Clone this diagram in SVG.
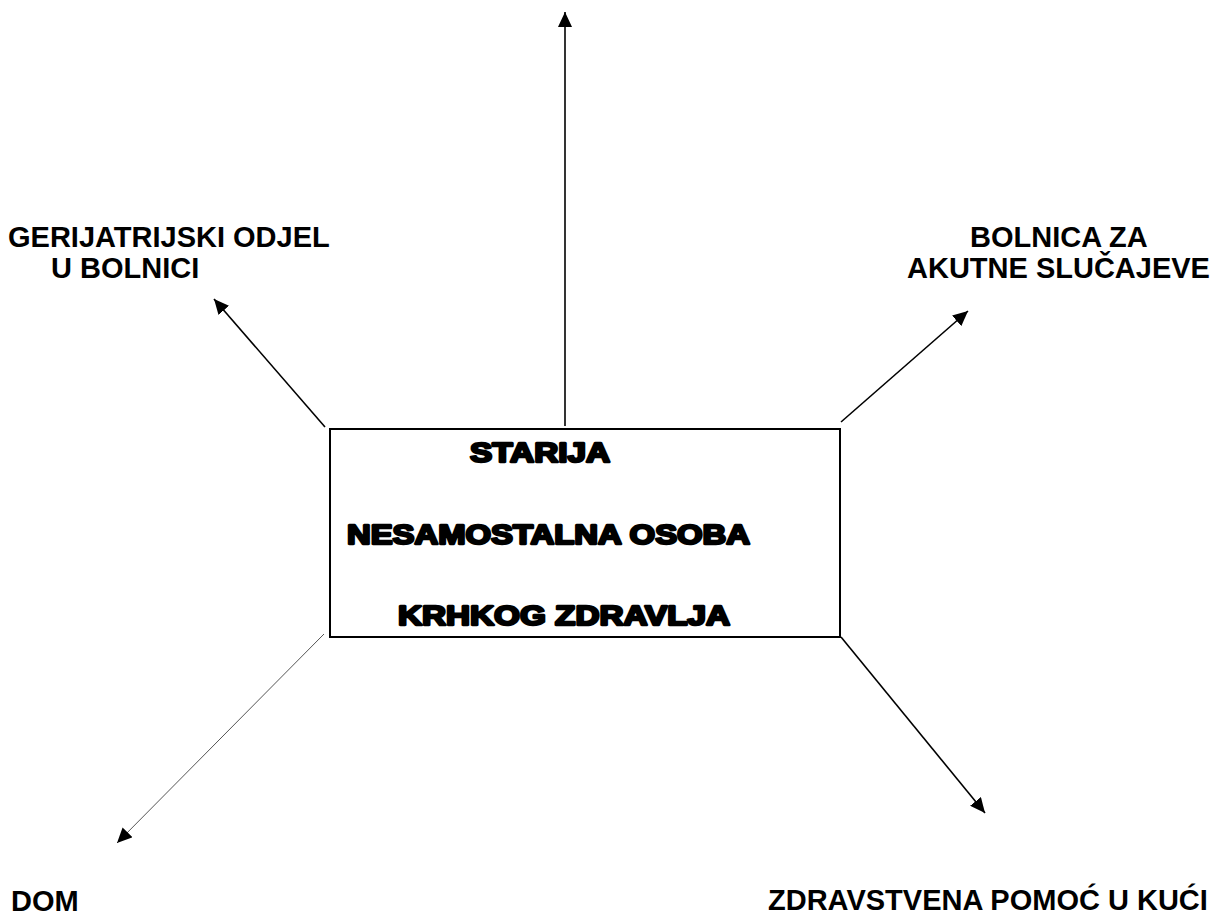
<svg xmlns="http://www.w3.org/2000/svg" width="1227" height="915" viewBox="0 0 1227 915">
<style>
.lbl{font-family:"Liberation Sans",Arial,sans-serif;font-weight:bold;font-size:29px;fill:#000}
.box{font-family:"Liberation Sans",Arial,sans-serif;font-weight:bold;font-size:27px;fill:#000;stroke:#000;stroke-width:2.4px;stroke-linejoin:round}
.conn{stroke:#000;stroke-width:1.6;fill:none;marker-end:url(#ah)}
.thin{stroke:#555;stroke-width:1;fill:none;marker-end:url(#ah)}
</style>
<defs>
<marker id="ah" viewBox="0 0 15 14" refX="15" refY="7" markerWidth="15" markerHeight="14" markerUnits="userSpaceOnUse" orient="auto">
<path d="M0,0 L15,7 L0,14 Z" fill="#000"/>
</marker>
</defs>
<rect width="1227" height="915" fill="#fff"/>
<g id="connectors">
<line class="conn" x1="565" y1="426" x2="565" y2="12"/>
<line class="conn" x1="325" y1="427" x2="214" y2="299"/>
<line class="conn" x1="841" y1="422" x2="968" y2="311"/>
<line class="thin" x1="324" y1="634" x2="117" y2="843"/>
<line class="conn" x1="841" y1="637" x2="985" y2="813"/>
</g>
<g id="center">
<rect x="330" y="429" width="510" height="208" fill="#fff" stroke="#000" stroke-width="2"/>
<text class="box" x="470" y="462" textLength="140" lengthAdjust="spacingAndGlyphs">STARIJA</text>
<text class="box" x="347" y="544" textLength="403" lengthAdjust="spacingAndGlyphs">NESAMOSTALNA OSOBA</text>
<text class="box" x="398" y="625" textLength="332" lengthAdjust="spacingAndGlyphs">KRHKOG ZDRAVLJA</text>
</g>
<g id="gerijatrijski">
<text class="lbl" x="8" y="247">GERIJATRIJSKI ODJEL</text>
<text class="lbl" x="51" y="278">U BOLNICI</text>
</g>
<g id="bolnica">
<text class="lbl" x="970" y="247">BOLNICA ZA</text>
<text class="lbl" x="907" y="278">AKUTNE SLUČAJEVE</text>
</g>
<g id="dom">
<text class="lbl" x="11" y="911">DOM</text>
</g>
<g id="zdravstvena">
<text class="lbl" x="768" y="910">ZDRAVSTVENA POMOĆ U KUĆI</text>
</g>
</svg>
